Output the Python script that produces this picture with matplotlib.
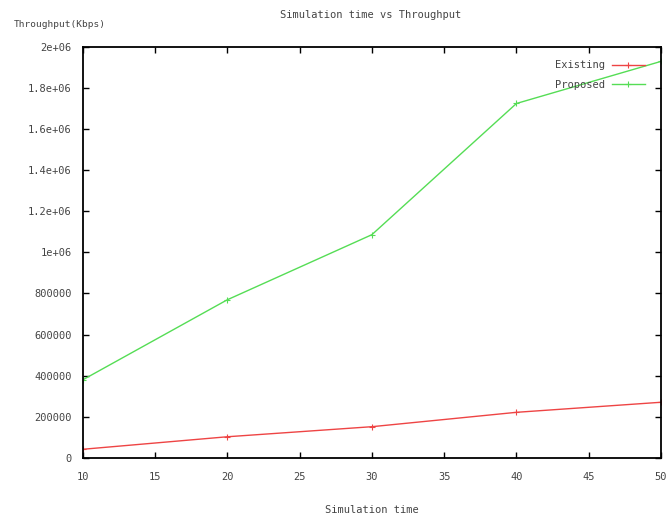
import matplotlib.pyplot as plt
from matplotlib.ticker import FixedLocator

plt.rcParams['font.family'] = ['DejaVu Sans Mono', 'DejaVu Sans']

sim_time = [10, 20, 30, 40, 50]
existing = [41000, 102000, 151000, 221000, 270000]
proposed = [379000, 769000, 1086000, 1725000, 1930000]

y_ticks = [0, 200000, 400000, 600000, 800000, 1000000, 1200000,
           1400000, 1600000, 1800000, 2000000]
y_labels = ['0', '200000', '400000', '600000', '800000', '1e+06',
            '1.2e+06', '1.4e+06', '1.6e+06', '1.8e+06', '2e+06']
x_ticks = [10, 15, 20, 25, 30, 35, 40, 45, 50]


def main():
    fig = plt.figure(figsize=(6.68, 5.19), dpi=100)
    ax = fig.add_axes([0.1238, 0.1181, 0.8657, 0.7913])

    ax.plot(sim_time, existing, color='#ee4444', lw=1.0, marker='+',
            ms=4, mew=0.8, label='Existing')
    ax.plot(sim_time, proposed, color='#55dd55', lw=1.0, marker='+',
            ms=4, mew=0.8, label='Proposed')

    ax.set_xlim(10, 50)
    ax.set_ylim(0, 2000000)
    ax.xaxis.set_major_locator(FixedLocator(x_ticks))
    ax.set_yticks(y_ticks)
    ax.set_yticklabels(y_labels)
    ax.tick_params(direction='in', length=4, width=1.0, labelsize=7.5,
                   top=True, right=True, colors='black', labelcolor='#444444')
    ax.tick_params(axis='x', pad=10)
    ax.tick_params(axis='y', pad=8)
    for s in ax.spines.values():
        s.set_linewidth(1.3)

    fig.text(0.555, 0.971, 'Simulation time vs Throughput', ha='center',
             va='center', fontsize=7.5, color='#444444')
    fig.text(0.02, 0.952, 'Throughput(Kbps)', ha='left', va='center',
             fontsize=6.8, color='#444444')
    fig.text(0.557, 0.017, 'Simulation time', ha='center', va='center',
             fontsize=7.5, color='#444444')

    ax.legend(loc='upper right', bbox_to_anchor=(0.985, 0.985),
              frameon=False, markerfirst=False, fontsize=7.5,
              handlelength=3.2, borderaxespad=0.3, labelspacing=0.9,
              handletextpad=0.6, labelcolor='#444444')

    fig.savefig('out.png', dpi=100)


if __name__ == '__main__':
    main()
